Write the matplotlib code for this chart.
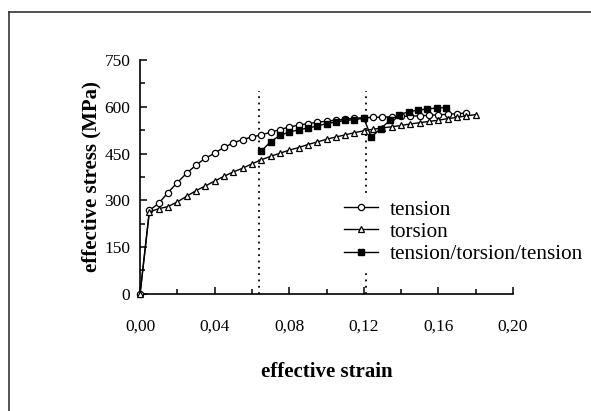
import matplotlib.pyplot as plt
from matplotlib.lines import Line2D
from matplotlib.ticker import MultipleLocator

plt.rcParams['font.family'] = ['Liberation Serif', 'DejaVu Serif']

# tension curve
tension_strain = [0, 0.005, 0.010, 0.015, 0.020, 0.025, 0.030, 0.035, 0.040, 0.045, 0.050,
                  0.055, 0.060, 0.065, 0.070, 0.075, 0.080, 0.085, 0.090, 0.095, 0.100,
                  0.105, 0.110, 0.115, 0.120, 0.125, 0.130, 0.135, 0.140, 0.145, 0.150,
                  0.155, 0.160, 0.165, 0.170, 0.175]
tension_stress = [0, 268, 290, 325, 357, 387, 413, 435, 451, 470, 484,
                  495, 503, 510, 518, 527, 535, 541, 546, 550, 554,
                  557, 560, 563, 565, 566, 567, 568, 569, 570, 571,
                  573, 574, 576, 578, 580]

# torsion curve
torsion_strain = [0, 0.005, 0.010, 0.015, 0.020, 0.025, 0.030, 0.035, 0.040, 0.045, 0.050,
                  0.055, 0.060, 0.065, 0.070, 0.075, 0.080, 0.085, 0.090, 0.095, 0.100,
                  0.105, 0.110, 0.115, 0.120, 0.125, 0.130, 0.135, 0.140, 0.145, 0.150,
                  0.155, 0.160, 0.165, 0.170, 0.175, 0.180]
torsion_stress = [0, 263, 273, 280, 295, 313, 331, 346, 362, 377, 391,
                  403, 417, 430, 441, 451, 461, 469, 479, 487, 496,
                  503, 510, 517, 523, 528, 532, 536, 540, 545, 549,
                  553, 557, 562, 566, 571, 575]

# tension/torsion/tension path
ttt_strain = [0.065, 0.070, 0.075, 0.080, 0.085, 0.090, 0.095, 0.100, 0.105, 0.110,
              0.115, 0.120, 0.124, 0.129, 0.134, 0.139, 0.144, 0.149, 0.154, 0.159, 0.164]
ttt_stress = [458, 488, 508, 519, 526, 532, 538, 546, 551, 556,
              559, 563, 503, 530, 556, 575, 584, 589, 593, 596, 597]

path_changes = [0.064, 0.121]

fig = plt.figure(figsize=(5.91, 4.11), dpi=100)
ax = fig.add_axes([0.237, 0.285, 0.631, 0.569])

ax.plot(tension_strain, tension_stress, color='black', lw=1.0, marker='o', ms=4.5,
        mfc='white', mec='black', mew=0.9, clip_on=False, zorder=3, label='tension')
ax.plot(torsion_strain, torsion_stress, color='black', lw=1.0, marker='^', ms=5,
        mfc='white', mec='black', mew=0.9, clip_on=False, zorder=3, label='torsion')
ax.plot(ttt_strain, ttt_stress, color='black', lw=1.0, marker='s', ms=4.5,
        mfc='black', mec='black', clip_on=False, zorder=4, label='tension/torsion/tension')

for xc in path_changes:
    ax.plot([xc, xc], [0, 650], color='black', lw=1.3, ls=(0, (1, 2.5)), zorder=2)

ax.set_xlim(0, 0.20)
ax.set_ylim(0, 750)
ax.xaxis.set_minor_locator(MultipleLocator(0.02))
ax.yaxis.set_major_locator(MultipleLocator(150))
ax.yaxis.set_minor_locator(MultipleLocator(75))
ax.set_xticks([0, 0.04, 0.08, 0.12, 0.16, 0.20])
ax.set_xticklabels(['0,00', '0,04', '0,08', '0,12', '0,16', '0,20'])
ax.tick_params(which='both', direction='in', width=1.1, labelsize=12.5)
ax.tick_params(which='major', length=5)
ax.tick_params(which='minor', length=3.5)
ax.tick_params(axis='x', pad=18)
ax.tick_params(axis='y', pad=7)

for s in ['top', 'right']:
    ax.spines[s].set_visible(False)
for s in ['left', 'bottom']:
    ax.spines[s].set_linewidth(1.2)

ax.set_xlabel('effective strain', fontsize=15, fontweight='bold', va='center')
ax.set_ylabel('effective stress (MPa)', fontsize=15, fontweight='bold', va='center')
ax.xaxis.set_label_coords(0.5, -(372 - 294) / 234)
ax.yaxis.set_label_coords(-(140 - 91) / 373, 0.5)

leg = ax.legend(loc='center left', bbox_to_anchor=(338 / 591, 1 - 232 / 411),
                bbox_transform=fig.transFigure, fontsize=15.3, frameon=True,
                framealpha=1, edgecolor='none', fancybox=False, borderpad=0.3,
                borderaxespad=0, handlelength=1.6, handletextpad=0.55,
                labelspacing=0.1, numpoints=1)
leg.set_zorder(10)

# partial outer frame (top and left only)
fig.add_artist(Line2D([9 / 591, 1], [1 - 12 / 411, 1 - 12 / 411], color='#333333', lw=1.2))
fig.add_artist(Line2D([9 / 591, 9 / 591], [0, 1 - 12 / 411], color='#333333', lw=1.2))

fig.savefig('out.png', dpi=100)
